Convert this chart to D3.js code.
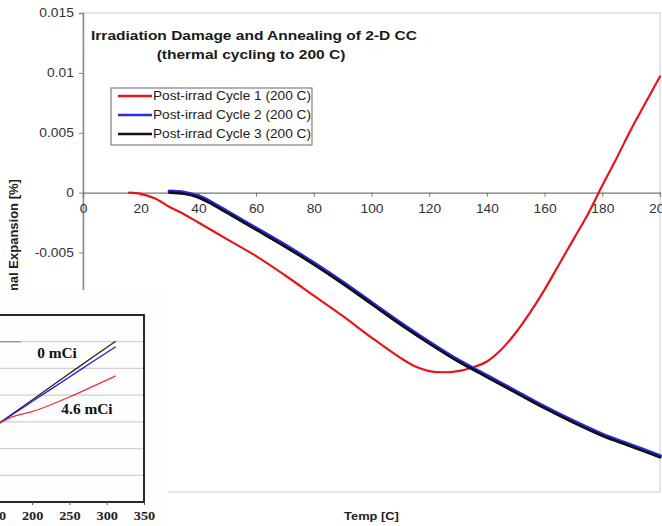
<!DOCTYPE html>
<html>
<head>
<meta charset="utf-8">
<script src="https://cdn.jsdelivr.net/npm/d3@7"></script>
<style>
  html, body { margin: 0; padding: 0; background: #fff; }
  svg { display: block; }
</style>
</head>
<body>
<svg id="chart" width="662" height="526"></svg>
<script>
// ---- Main chart data: thermal expansion [%] vs temperature [C] ----
const seriesNames = [
  "Post-irrad Cycle 1 (200 C)",
  "Post-irrad Cycle 2 (200 C)",
  "Post-irrad Cycle 3 (200 C)"
];
const seriesColors = ["#e8141b", "#2a2ae0", "#111111"];

const cycle1Temp = [16, 20, 25, 30, 35, 40, 50, 60, 70, 80, 90, 100, 110, 115, 120, 125, 130, 135, 140, 145, 150, 155, 160, 165, 170, 175, 180, 185, 190, 195, 200];
const cycle1Exp  = [0, -0.0001, -0.0005, -0.0012, -0.0018, -0.0025, -0.0039, -0.0053, -0.0069, -0.0086, -0.0103, -0.0121, -0.0138, -0.0145, -0.0149, -0.0150, -0.0149, -0.0146, -0.0141, -0.0131, -0.0117, -0.0100, -0.0081, -0.0060, -0.0039, -0.0018, 0.0006, 0.0029, 0.0053, 0.0075, 0.0097];

const cycle2Temp = [30, 35, 40, 45, 50, 60, 70, 80, 90, 100, 110, 120, 130, 140, 150, 160, 170, 180, 190, 200];
const cycle2Exp  = [0.0001, 0.0000, -0.0003, -0.0009, -0.0016, -0.0030, -0.0044, -0.0059, -0.0075, -0.0092, -0.0109, -0.0125, -0.0140, -0.0153, -0.0166, -0.0179, -0.0191, -0.0202, -0.0211, -0.0220];

const cycle3Temp = [30, 35, 40, 45, 50, 60, 70, 80, 90, 100, 110, 120, 130, 140, 150, 160, 170, 180, 190, 200];
const cycle3Exp  = [0, -0.0001, -0.0004, -0.0010, -0.0017, -0.0031, -0.0045, -0.0060, -0.0076, -0.0093, -0.0110, -0.0126, -0.0141, -0.0154, -0.0167, -0.0180, -0.0192, -0.0203, -0.0212, -0.0221];

const xTicks = [0, 20, 40, 60, 80, 100, 120, 140, 160, 180, 200];
const yTicks = [-0.025, -0.02, -0.015, -0.01, -0.005, 0, 0.005, 0.01, 0.015];
const yTickLabels = ["-0.025", "-0.02", "-0.015", "-0.01", "-0.005", "0", "0.005", "0.01", "0.015"];

// ---- Inset data: expansion vs temperature (°C) for two activity levels ----
const insetTemp = [150, 170, 200, 250, 280, 312];
const inset0mCiA = [2.84, 3.23, 3.82, 4.81, 5.40, 6.02];
const inset0mCiB = [2.84, 3.21, 3.76, 4.68, 5.23, 5.81];
const inset46mCi = [2.84, 3.15, 3.38, 3.93, 4.31, 4.72];
const insetColors = ["#222222", "#1f1fd6", "#f0303a"];
const insetXTicks = [150, 200, 250, 300, 350];
const insetYGrid = [1, 2, 3, 4, 5, 6];

const SANS = "Arial, 'Liberation Sans', sans-serif";
const SERIF = "'Times New Roman', 'Liberation Serif', 'DejaVu Serif', serif";
const SX = 1.15;   // horizontal text stretch used throughout the figure

const svg = d3.select("#chart");

// draws a horizontally stretched text anchored at (px, py)
function label(parent, px, py, str, opts) {
  const g = parent.append("g").attr("transform", `translate(${px},${py})`);
  const t = g.append("text")
    .attr("transform", `scale(${opts.sx || SX},1)`)
    .attr("text-anchor", opts.anchor || "start")
    .style("font-family", opts.family || SANS)
    .style("font-size", opts.size + "px")
    .style("font-weight", opts.weight || "normal")
    .attr("fill", opts.fill || "#222")
    .text(str);
  return t;
}

const x = d3.scaleLinear().domain([0, 200]).range([83, 660]);
const y = d3.scaleLinear().domain([-0.025, 0.015]).range([492, 13]);

// plot area frame
svg.append("rect")
  .attr("x", x(0)).attr("y", y(0.015))
  .attr("width", x(200) - x(0)).attr("height", y(-0.025) - y(0.015))
  .attr("fill", "#fff").attr("stroke", "#d4d4d4").attr("stroke-width", 1.2);

// y axis
const yAxis = d3.axisLeft(y)
  .tickValues(yTicks)
  .tickSize(4)
  .tickPadding(4)
  .tickFormat((d, i) => yTickLabels[i]);
const gy = svg.append("g").attr("transform", `translate(${x(0)},0)`).call(yAxis);
gy.select(".domain").attr("stroke", "#8a8a8a").attr("stroke-width", 1.5);
gy.selectAll(".tick line").attr("stroke", "#8a8a8a");
gy.selectAll(".tick text")
  .attr("transform", `scale(${SX},1)`)
  .style("font-family", SANS).style("font-size", "12px").attr("fill", "#333");

// x axis at zero expansion
const xAxis = d3.axisBottom(x)
  .tickValues(xTicks)
  .tickSize(4)
  .tickPadding(8)
  .tickFormat(d3.format("d"));
const gx = svg.append("g").attr("transform", `translate(0,${y(0)})`).call(xAxis);
gx.select(".domain").attr("stroke", "#777").attr("stroke-width", 1.2);
gx.selectAll(".tick line").attr("stroke", "#777");
gx.selectAll(".tick text")
  .attr("transform", `scale(${SX},1)`)
  .style("font-family", SANS).style("font-size", "12px").attr("fill", "#333");

// curves
const line = d3.line()
  .x(d => x(d[0]))
  .y(d => y(d[1]))
  .curve(d3.curveCatmullRom.alpha(0.5));

const series = [
  { t: cycle1Temp, v: cycle1Exp, color: seriesColors[0], w: 2.2 },
  { t: cycle2Temp, v: cycle2Exp, color: seriesColors[1], w: 4 },
  { t: cycle3Temp, v: cycle3Exp, color: seriesColors[2], w: 2.6 }
];
svg.append("clipPath").attr("id", "plotClip")
  .append("rect").attr("x", x(0)).attr("y", y(0.015))
  .attr("width", x(200) - x(0) + 2).attr("height", y(-0.025) - y(0.015));
const curves = svg.append("g").attr("clip-path", "url(#plotClip)");
series.forEach(s => {
  curves.append("path")
    .datum(s.t.map((t, i) => [t, s.v[i]]))
    .attr("d", line)
    .attr("fill", "none")
    .attr("stroke", s.color)
    .attr("stroke-width", s.w)
    .attr("stroke-linejoin", "round")
    .attr("stroke-linecap", "round");
});

// title
label(svg, 254, 40, "Irradiation Damage and Annealing of 2-D CC",
  { anchor: "middle", size: 13.5, weight: "bold", fill: "#1a1a1a" });
label(svg, 251, 59, "(thermal cycling to 200 C)",
  { anchor: "middle", size: 13.5, weight: "bold", fill: "#1a1a1a" });

// legend
const legend = svg.append("g").attr("transform", "translate(111,88)");
legend.append("rect")
  .attr("width", 201).attr("height", 57)
  .attr("fill", "#fff").attr("stroke", "#666").attr("stroke-width", 1);
seriesNames.forEach((name, i) => {
  const ly = 8 + i * 19;
  legend.append("line")
    .attr("x1", 7).attr("x2", 41).attr("y1", ly).attr("y2", ly)
    .attr("stroke", seriesColors[i]).attr("stroke-width", 2.6);
  label(legend, 42, ly + 4.2, name, { size: 12, sx: 1.14, fill: "#222" });
});

// axis titles
label(svg, x(100), 520, "Temp [C]",
  { anchor: "middle", size: 11.5, sx: 1.12, weight: "bold", fill: "#222" });
svg.append("text")
  .attr("transform", "translate(18,251) rotate(-90)")
  .attr("text-anchor", "middle")
  .style("font-family", SANS).style("font-weight", "bold").style("font-size", "13px")
  .attr("fill", "#222")
  .text("Thermal Expansion [%]");

// ---- Inset panel in the lower-left corner ----
svg.append("rect")
  .attr("x", 0).attr("y", 290).attr("width", 168).attr("height", 236)
  .attr("fill", "#fdfdfd");

const ix = d3.scaleLinear().domain([0, 350]).range([-117, 144]);
const iy = d3.scaleLinear().domain([0, 7]).range([502, 315]);

const inset = svg.append("g");
inset.selectAll("line.grid")
  .data(insetYGrid)
  .join("line")
  .attr("class", "grid")
  .attr("x1", 0).attr("x2", ix(350))
  .attr("y1", d => iy(d)).attr("y2", d => iy(d))
  .attr("stroke", "#d0d0d0").attr("stroke-width", 1.2);
inset.append("line")
  .attr("x1", 0).attr("x2", 21).attr("y1", iy(6)).attr("y2", iy(6))
  .attr("stroke", "#8c8c8c").attr("stroke-width", 1.2);

const insetLine = d3.line()
  .x(d => ix(d[0]))
  .y(d => iy(d[1]))
  .curve(d3.curveMonotoneX);
[inset0mCiA, inset0mCiB, inset46mCi].forEach((vals, k) => {
  inset.append("path")
    .datum(insetTemp.map((t, i) => [t, vals[i]]))
    .attr("d", insetLine)
    .attr("fill", "none")
    .attr("stroke", insetColors[k])
    .attr("stroke-width", 1.3);
});

inset.append("rect")
  .attr("x", -10).attr("y", iy(7))
  .attr("width", ix(350) + 10).attr("height", iy(0) - iy(7))
  .attr("fill", "none").attr("stroke", "#111").attr("stroke-width", 1.8);

const ixAxis = d3.axisBottom(ix)
  .tickValues(insetXTicks)
  .tickSize(3)
  .tickPadding(6)
  .tickFormat(d3.format("d"));
const gix = inset.append("g").attr("transform", `translate(0,${iy(0)})`).call(ixAxis);
gix.select(".domain").remove();
gix.selectAll(".tick line").attr("stroke", "#555");
gix.selectAll(".tick text")
  .attr("transform", "scale(1.1,1)")
  .style("font-family", SERIF).style("font-size", "13px").style("font-weight", "bold")
  .attr("fill", "#222");

label(inset, 57, 536, "Temperature (°C)",
  { anchor: "middle", size: 13, sx: 1.1, family: SERIF, fill: "#333" });
label(inset, 57, 358, "0 mCi",
  { anchor: "middle", size: 14, sx: 1.1, family: SERIF, weight: "bold", fill: "#111" });
label(inset, 87, 414, "4.6 mCi",
  { anchor: "middle", size: 14, sx: 1.1, family: SERIF, weight: "bold", fill: "#111" });
</script>
</body>
</html>
